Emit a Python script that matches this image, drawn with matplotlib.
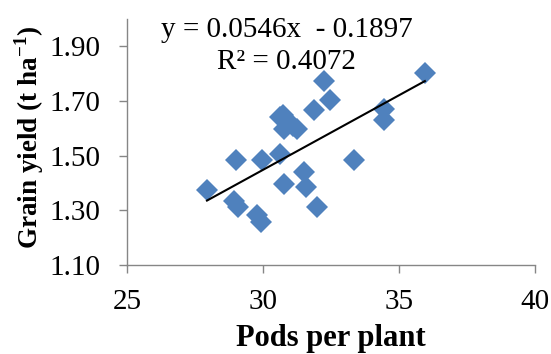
import numpy as np
import matplotlib
matplotlib.use('Agg')
import matplotlib.pyplot as plt

# Pods per plant vs grain yield
pods = [27.94, 29.01, 28.95, 29.07, 29.77, 29.93, 29.96, 30.63, 30.63, 30.75,
        30.79, 30.78, 31.12, 31.24, 31.51, 31.58, 31.88, 32.00, 32.26, 32.47,
        33.33, 34.45, 34.43, 35.95]
yield_t = [1.374, 1.484, 1.335, 1.311, 1.283, 1.256, 1.486, 1.505, 1.642, 1.648,
           1.599, 1.395, 1.608, 1.596, 1.441, 1.384, 1.669, 1.311, 1.773, 1.705,
           1.484, 1.672, 1.630, 1.804]
slope = 0.0546
intercept = -0.1897
x_ticks = [25, 30, 35, 40]
y_ticks = [1.10, 1.30, 1.50, 1.70, 1.90]

plt.rcParams['font.family'] = ['Liberation Serif', 'DejaVu Serif']
plt.rcParams['mathtext.fontset'] = 'custom'
plt.rcParams['mathtext.rm'] = 'Liberation Serif'
plt.rcParams['mathtext.bf'] = 'Liberation Serif:bold'

fig = plt.figure(figsize=(5.51, 3.54), dpi=100)
ax = fig.add_axes([0.2305, 0.2514, 0.7405, 0.6946])

ax.plot(pods, yield_t, linestyle='none', marker='D', markersize=11,
        color='#4F81BD', markeredgewidth=0, zorder=3)

# trend line across the data range
xl = np.array([min(pods), max(pods)])
ax.plot(xl, slope * xl + intercept, color='black', linewidth=1.5, zorder=4)

ax.set_xlim(25, 40)
ax.set_ylim(1.10, 2.00)
ax.set_xticks(x_ticks)
ax.set_xticklabels([str(t) for t in x_ticks])
ax.set_yticks(y_ticks)
ax.set_yticklabels([f'{t:.2f}' for t in y_ticks])

for side in ['top', 'right']:
    ax.spines[side].set_visible(False)
for side in ['left', 'bottom']:
    ax.spines[side].set_color('#868686')
    ax.spines[side].set_linewidth(1.0)
ax.tick_params(axis='both', direction='out', length=6, width=1.0,
               color='#868686', labelsize=21)
ax.tick_params(axis='x', pad=11)
ax.tick_params(axis='y', pad=13)

ax.set_xlabel('Pods per plant', fontsize=22, fontweight='bold', labelpad=7)
ax.set_ylabel('Grain yield (t ha$^{\\mathbf{-1}}$)', fontsize=19.5,
              fontweight='bold')
ax.yaxis.set_label_coords(-0.198, 0.52)

fig.text(0.521, 0.916, 'y = 0.0546x  - 0.1897', fontsize=21, ha='center', va='center')
fig.text(0.519, 0.826, 'R² = 0.4072', fontsize=21, ha='center', va='center')

fig.savefig('out.png', dpi=100)
